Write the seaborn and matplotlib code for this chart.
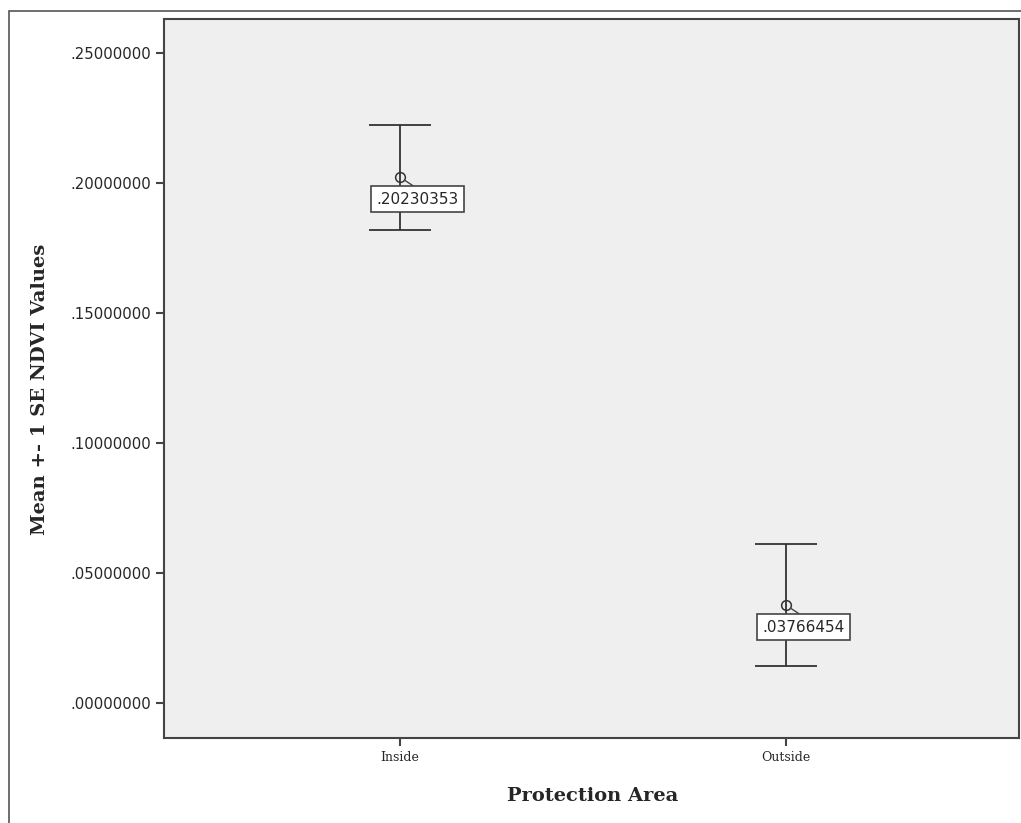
import numpy as np
import matplotlib
matplotlib.use("Agg")
import matplotlib.pyplot as plt
from matplotlib.ticker import FuncFormatter
from matplotlib.patches import Rectangle
import seaborn as sns

# datos
areas = ["Inside", "Outside"]
means = [0.20230353, 0.03766454]
ses = [0.0202, 0.0234]
mean_labels = [".20230353", ".03766454"]
yticks = [0.0, 0.05, 0.10, 0.15, 0.20, 0.25]

sns.set_style("white")

fig = plt.figure(figsize=(10.21, 8.23), dpi=100)
ax = fig.add_axes([0.1606, 0.1033, 0.8374, 0.8736])
ax.set_facecolor("#efefef")

# marco exterior
fig.patches.append(Rectangle((9 / 1021, -0.01), 1.02, 1 - 11 / 823 + 0.01,
                             transform=fig.transFigure, fill=False,
                             edgecolor="#555555", linewidth=1.2))

ax.errorbar(x=[0, 1], y=means, yerr=ses, fmt="none", ecolor="#333333",
            elinewidth=1.3, capsize=22, capthick=1.3, zorder=2)
sns.pointplot(x=areas, y=means, linestyle="none", markers="o", errorbar=None,
              color="#333333", markersize=7, markerfacecolor="none",
              markeredgewidth=1.1, ax=ax, zorder=3)

for i, (m, lab) in enumerate(zip(means, mean_labels)):
    ax.annotate(lab, xy=(i, m), xytext=(18, -22), textcoords="offset pixels",
                ha="center", va="center", fontsize=11,
                family="DejaVu Sans",
                bbox=dict(boxstyle="square,pad=0.35", fc="white",
                          ec="#444444", lw=1.2),
                arrowprops=dict(arrowstyle="-", color="#444444", lw=1,
                                shrinkA=0, shrinkB=4,
                                relpos=(0.55, 1.0)),
                zorder=4)

ax.set_xlim(-0.611, 1.604)
ax.set_ylim(-0.01346, 0.2631)
ax.set_yticks(yticks)
ax.yaxis.set_major_formatter(FuncFormatter(lambda v, p: f"{v:.8f}".lstrip("0")))

for s in ax.spines.values():
    s.set_color("#444444")
    s.set_linewidth(1.5)

ax.tick_params(axis="both", direction="out", length=6, width=1.5,
               color="#444444", left=True, bottom=True)
for t in ax.get_yticklabels():
    t.set_fontfamily("DejaVu Sans")
    t.set_fontsize(10.7)
for t in ax.get_xticklabels():
    t.set_fontfamily("DejaVu Serif")
    t.set_fontsize(9)

ax.set_xlabel("Protection Area", fontsize=14, fontweight="bold",
              family="DejaVu Serif", va="center")
ax.set_ylabel("Mean +- 1 SE NDVI Values", fontsize=14, fontweight="bold",
              family="DejaVu Serif", va="center")
ax.xaxis.set_label_coords(0.5 + (592 - 591) / 855, (738 - 796) / 719)
ax.yaxis.set_label_coords((40 - 164) / 855, (738 - 389) / 719)

fig.savefig("out.png", dpi=100)
